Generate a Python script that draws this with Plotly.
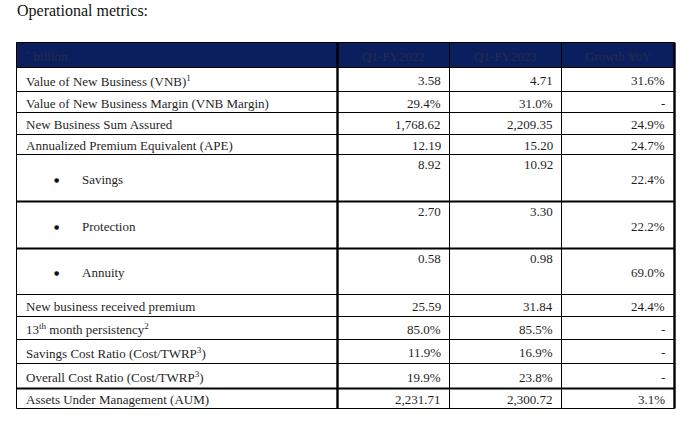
import plotly.graph_objects as go

# ---- data ----
header = ["` billion", "Q1-FY2022", "Q1-FY2023", "Growth YoY"]
labels = [
    "Value of New Business (VNB)<sup>1</sup>",
    "Value of New Business Margin (VNB Margin)",
    "New Business Sum Assured",
    "Annualized Premium Equivalent (APE)",
    "Savings",
    "Protection",
    "Annuity",
    "New business received premium",
    "13<sup>th</sup> month persistency<sup>2</sup>",
    "Savings Cost Ratio (Cost/TWRP<sup>3</sup>)",
    "Overall Cost Ratio (Cost/TWRP<sup>3</sup>)",
    "Assets Under Management (AUM)",
]
q1_fy2022 = ["3.58", "29.4%", "1,768.62", "12.19", "8.92", "2.70", "0.58",
             "25.59", "85.0%", "11.9%", "19.9%", "2,231.71"]
q1_fy2023 = ["4.71", "31.0%", "2,209.35", "15.20", "10.92", "3.30", "0.98",
             "31.84", "85.5%", "16.9%", "23.8%", "2,300.72"]
growth_yoy = ["31.6%", "-", "24.9%", "24.7%", "22.4%", "22.2%", "69.0%",
              "24.4%", "-", "-", "-", "3.1%"]
bullet_rows = [False, False, False, False, True, True, True,
               False, False, False, False, False]

# ---- layout geometry (screen pixels) ----
W, H = 697, 423
col_x = [16.5, 337.5, 449.5, 561.5, 674.5]
row_y = [42.5, 67.5, 91.5, 112.5, 134.5, 154.5, 201.5, 248.5, 294.5,
         316.5, 339.5, 363.5, 388.5, 408.5]
thick_rows = {6, 7, 12}
thick_cols = {1, 4}

FONT = "Liberation Serif"
TXT = "#1f1f1f"

shapes = []
annotations = []

# header fill
shapes.append(dict(type="rect", xref="x", yref="y", x0=col_x[0], x1=col_x[-1],
                   y0=row_y[0], y1=row_y[1], fillcolor="#0b1f5e",
                   line=dict(width=0), layer="below"))

# horizontal lines
for i, y in enumerate(row_y):
    w = 2.2 if i in thick_rows else 1
    shapes.append(dict(type="line", xref="x", yref="y", x0=col_x[0], x1=col_x[-1],
                       y0=y, y1=y, line=dict(color="black", width=w)))
# vertical lines
for j, x in enumerate(col_x):
    w = 2.4 if j in thick_cols else 1
    shapes.append(dict(type="line", xref="x", yref="y", x0=x, x1=x,
                       y0=row_y[0], y1=row_y[-1], line=dict(color="black", width=w)))

# title
annotations.append(dict(x=15, y=11, xref="x", yref="y", text="Operational metrics:",
                        showarrow=False, xanchor="left", yanchor="middle",
                        font=dict(family=FONT, size=16, color="#111")))

# header text
hy = (row_y[0] + row_y[1]) / 2 + 1
annotations.append(dict(x=col_x[0] + 7, y=hy, xref="x", yref="y", text=header[0],
                        showarrow=False, xanchor="left", yanchor="middle",
                        font=dict(family=FONT, size=13, color="#262c4c")))
for j in range(1, 4):
    annotations.append(dict(x=(col_x[j] + col_x[j + 1]) / 2, y=hy, xref="x", yref="y",
                            text=header[j], showarrow=False, xanchor="center",
                            yanchor="middle",
                            font=dict(family=FONT, size=13, color="#262c4c")))

# body
for i, lab in enumerate(labels):
    top, bot = row_y[i + 1], row_y[i + 2]
    mid = (top + bot) / 2 + 1
    if bullet_rows[i]:
        annotations.append(dict(x=56, y=mid, xref="x", yref="y", text="●",
                                showarrow=False, xanchor="center", yanchor="middle",
                                font=dict(family="DejaVu Sans", size=6, color="#111")))
        annotations.append(dict(x=80, y=mid, xref="x", yref="y", text=lab,
                                showarrow=False, xanchor="left", yanchor="middle",
                                font=dict(family=FONT, size=13, color=TXT)))
        vy = top + 10
    else:
        annotations.append(dict(x=col_x[0] + 7, y=mid, xref="x", yref="y", text=lab,
                                showarrow=False, xanchor="left", yanchor="middle",
                                font=dict(family=FONT, size=13, color=TXT)))
        vy = mid
    for j, vals in ((1, q1_fy2022), (2, q1_fy2023)):
        annotations.append(dict(x=col_x[j + 1] - 7, y=vy, xref="x", yref="y",
                                text=vals[i], showarrow=False, xanchor="right",
                                yanchor="middle",
                                font=dict(family=FONT, size=13, color=TXT)))
    annotations.append(dict(x=col_x[4] - 8, y=mid, xref="x", yref="y",
                            text=growth_yoy[i], showarrow=False, xanchor="right",
                            yanchor="middle",
                            font=dict(family=FONT, size=13, color=TXT)))

fig = go.Figure()
fig.update_layout(
    width=W, height=H,
    margin=dict(l=0, r=0, t=0, b=0),
    paper_bgcolor="white", plot_bgcolor="white",
    xaxis=dict(range=[0, W], visible=False, fixedrange=True),
    yaxis=dict(range=[H, 0], visible=False, fixedrange=True),
    shapes=shapes, annotations=annotations, showlegend=False,
)
fig.write_html("out.html",
               config={"displayModeBar": False, "staticPlot": True},
               post_script="document.body.style.margin='0';"
                           "document.body.style.overflow='hidden';")
